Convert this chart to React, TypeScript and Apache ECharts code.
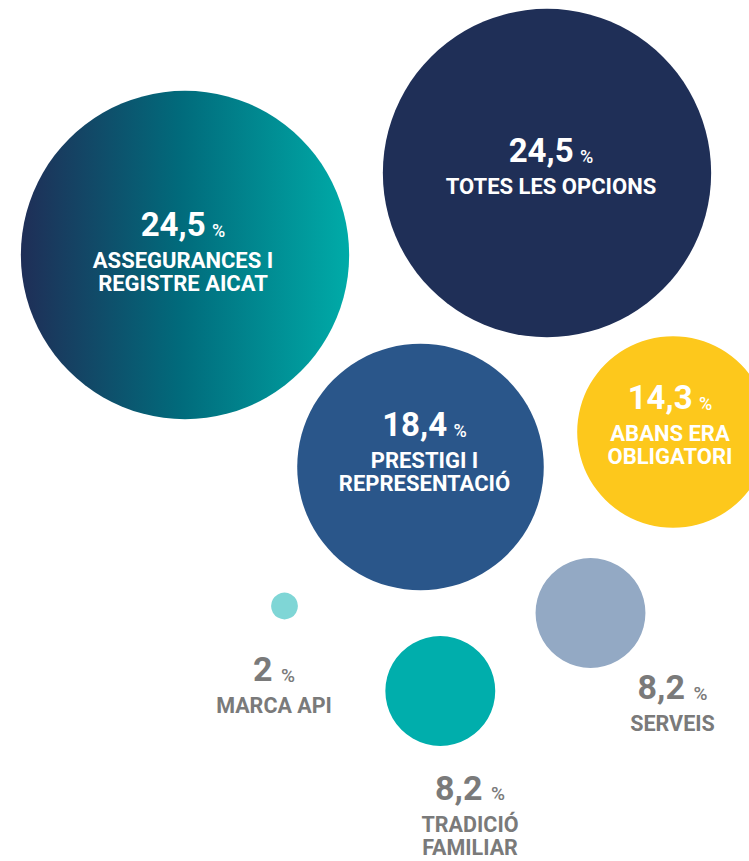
import React, { useEffect, useRef } from 'react';
import * as echarts from 'echarts';

// ---- data ----
const categories = [
  'ASSEGURANCES I\nREGISTRE AICAT',
  'TOTES LES OPCIONS',
  'PRESTIGI I\nREPRESENTACIÓ',
  'ABANS ERA\nOBLIGATORI',
  'SERVEIS',
  'TRADICIÓ\nFAMILIAR',
  'MARCA API',
];
const values = [24.5, 24.5, 18.4, 14.3, 8.2, 8.2, 2];

// ---- layout (bubble centres in the 749x861 page space) ----
const centersX = [185, 547, 420.5, 673, 590.5, 440.3, 284.5];
const centersY = [255, 173, 467, 432, 613, 691, 606];
const labelOffsets = [
  [-2, -8],
  [4, -11.3],
  [4, -19.8],
  [-3, -11.8],
  [82, 85.7],
  [29.7, 119.5],
  [-10.5, 74.7],
];
const labelOutside = [false, false, false, false, true, true, true];
const colors = ['gradient', '#1f2f57', '#2a568a', '#fdc81c', '#93a9c4', '#00aeac', '#7fd6d6'];
const SIZE_PER_UNIT = 13.4;

const fmt = (v: number) => String(v).replace('.', ',');

export default function App() {
  const ref = useRef<HTMLDivElement>(null);
  useEffect(() => {
    if (!ref.current) return;
    const chart = echarts.init(ref.current, null, { renderer: 'svg' });
    const data = values.map((v, i) => {
      const s = labelOutside[i] ? 'G' : 'W';
      const color =
        colors[i] === 'gradient'
          ? new echarts.graphic.LinearGradient(0, 0, 1, 0, [
              { offset: 0, color: '#1f2e57' },
              { offset: 0.48, color: '#016a7b' },
              { offset: 1, color: '#00aba8' },
            ])
          : colors[i];
      return {
        name: categories[i],
        value: [centersX[i], centersY[i], v],
        symbolSize: v * SIZE_PER_UNIT,
        itemStyle: { color, opacity: 1 },
        label: {
          show: true,
          position: 'inside',
          offset: labelOffsets[i],
          formatter: `{num${s}|${fmt(v)}} {pct${s}|%}\n{name${s}|${categories[i]}}`,
        },
      };
    });
    const white = '#ffffff';
    const grey = '#7a7a7a';
    const ff = 'Roboto';
    chart.setOption({
      animation: false,
      backgroundColor: '#ffffff',
      grid: { left: 0, right: 0, top: 0, bottom: 0 },
      xAxis: { type: 'value', min: 0, max: 749, show: false },
      yAxis: { type: 'value', min: 0, max: 861, inverse: true, show: false },
      series: [
        {
          type: 'scatter',
          data,
          emphasis: { disabled: true },
          label: {
            fontFamily: ff,
            fontSize: 26,
            align: 'center',
            rich: {
              numW: { fontFamily: ff, fontSize: 33, fontWeight: 'bold', color: white, lineHeight: 50 },
              pctW: { fontFamily: ff, fontSize: 18, fontWeight: 500, color: white, padding: [12, 0, 0, 0] },
              nameW: { fontFamily: ff, fontSize: 22, fontWeight: 'bold', color: white, lineHeight: 23, align: 'center' },
              numG: { fontFamily: ff, fontSize: 34, fontWeight: 'bold', color: grey, lineHeight: 50 },
              pctG: { fontFamily: ff, fontSize: 19, fontWeight: 500, color: grey, padding: [12, 0, 0, 2] },
              nameG: { fontFamily: ff, fontSize: 21.5, fontWeight: 'bold', color: grey, lineHeight: 23, align: 'center' },
            },
          },
        },
      ],
    });
    return () => chart.dispose();
  }, []);
  return (
    <div
      ref={ref}
      style={{ position: 'absolute', left: 0, top: 0, width: 749, height: 861, background: '#fff' }}
    />
  );
}
